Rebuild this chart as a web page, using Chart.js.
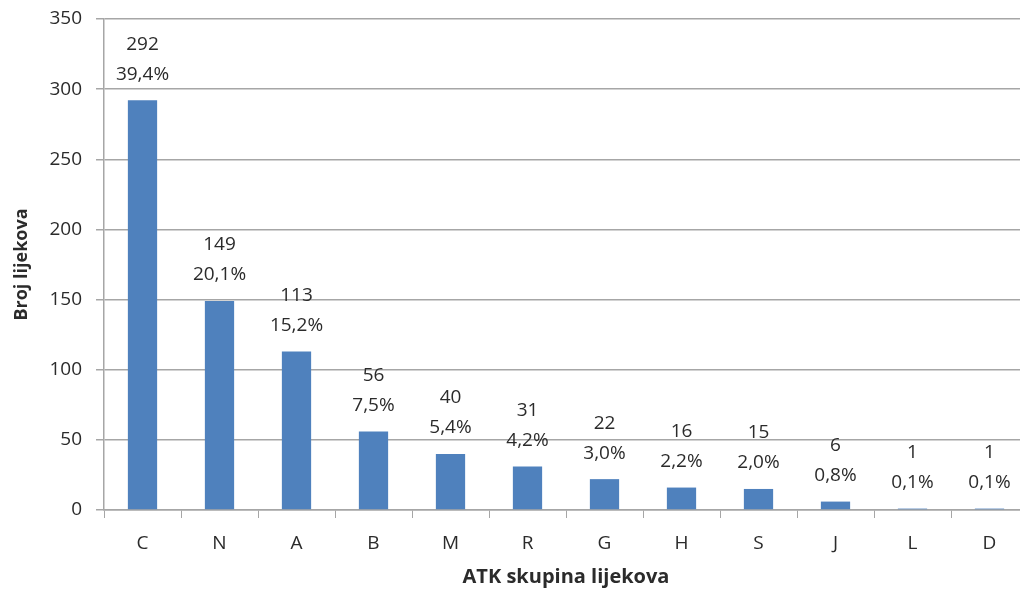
<!DOCTYPE html>
<html>
<head>
<meta charset="utf-8">
<script src="https://cdn.jsdelivr.net/npm/chart.js@4/dist/chart.umd.min.js"></script>
<style>
    html, body { margin: 0; padding: 0; background: #fff; overflow: hidden; }
    #wrap { width: 1030px; height: 590px; }
</style>
</head>
<body>
<div id="wrap"><canvas id="atkChart" width="1030" height="590"></canvas></div>
<script>
const categories = ['C', 'N', 'A', 'B', 'M', 'R', 'G', 'H', 'S', 'J', 'L', 'D'];
const counts = [292, 149, 113, 56, 40, 31, 22, 16, 15, 6, 1, 1];
const percents = [39.4, 20.1, 15.2, 7.5, 5.4, 4.2, 3.0, 2.2, 2.0, 0.8, 0.1, 0.1];
const yTicks = [0, 50, 100, 150, 200, 250, 300, 350];

const gridColor = '#a6a6a6';
const textColor = '#2b2b2b';
const fontFamily = '"Open Sans", "DejaVu Sans", sans-serif';

// value + percent written above every bar
const barLabels = {
    id: 'barLabels',
    afterDatasetsDraw(chart) {
        const ctx = chart.ctx;
        const meta = chart.getDatasetMeta(0);
        ctx.save();
        ctx.font = '19px ' + fontFamily;
        ctx.fillStyle = textColor;
        ctx.textAlign = 'center';
        ctx.textBaseline = 'middle';
        meta.data.forEach((bar, i) => {
            ctx.fillText(String(counts[i]), bar.x, bar.y - 56);
            ctx.fillText(percents[i].toFixed(1).replace('.', ',') + '%', bar.x, bar.y - 26);
        });
        ctx.restore();
    }
};

const ctx = document.getElementById('atkChart').getContext('2d');

new Chart(ctx, {
    type: 'bar',
    data: {
        labels: categories,
        datasets: [{
            data: counts,
            backgroundColor: '#4f81bd',
            borderWidth: 0,
            barPercentage: 0.38,
            categoryPercentage: 1
        }]
    },
    options: {
        responsive: false,
        animation: false,
        layout: { padding: { top: 19, right: 2, left: 0, bottom: 0 } },
        plugins: {
            legend: { display: false },
            tooltip: { enabled: false }
        },
        scales: {
            x: {
                afterFit: scale => {
                    scale.height = 80;
                    scale.paddingLeft = 0;
                    scale.paddingRight = 0;
                },
                grid: {
                    offset: true,
                    drawOnChartArea: false,
                    drawTicks: true,
                    tickLength: 8,
                    color: gridColor
                },
                border: { color: gridColor, width: 1.5 },
                ticks: {
                    padding: 14,
                    color: textColor,
                    font: { size: 19, family: fontFamily }
                },
                title: {
                    display: true,
                    text: 'ATK skupina lijekova',
                    color: textColor,
                    font: { size: 20, weight: 'bold', family: fontFamily },
                    padding: { top: 0, bottom: 1 }
                }
            },
            y: {
                min: 0,
                max: 350,
                afterFit: scale => {
                    scale.width = 104;
                    scale.paddingTop = 0;
                    scale.paddingBottom = 0;
                },
                afterBuildTicks: scale => { scale.ticks = yTicks.map(v => ({ value: v })); },
                grid: {
                    color: gridColor,
                    lineWidth: 1.5,
                    tickLength: 8
                },
                border: { color: gridColor, width: 1.5 },
                ticks: {
                    padding: 14,
                    color: textColor,
                    font: { size: 19, family: fontFamily }
                },
                title: {
                    display: true,
                    text: 'Broj lijekova',
                    color: textColor,
                    font: { size: 18, weight: 'bold', family: fontFamily },
                    padding: { top: 11, bottom: 0 }
                }
            }
        }
    },
    plugins: [barLabels]
});
</script>
</body>
</html>
